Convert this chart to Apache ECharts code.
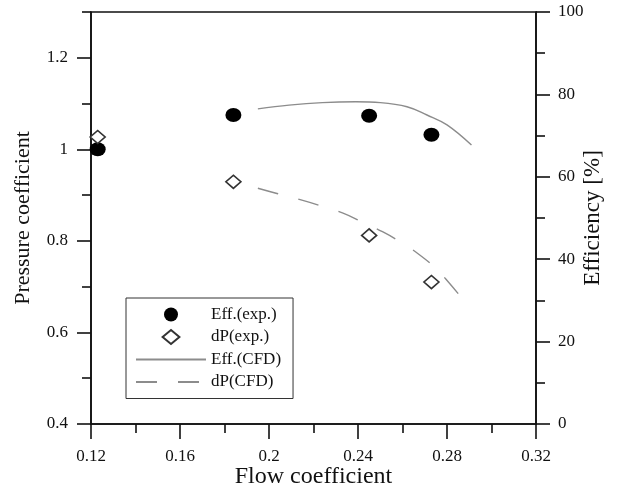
<!DOCTYPE html>
<html>
<head>
<meta charset="utf-8">
<script src="https://cdn.jsdelivr.net/npm/echarts@6/dist/echarts.min.js"></script>
<style>
  html, body { margin: 0; padding: 0; background: #fff; }
  #chart { width: 618px; height: 489px; }
</style>
</head>
<body>
<div id="chart"></div>
<script>
// Measured points (experiment)
const expFlow = [0.123, 0.184, 0.245, 0.273];
const expEff = [66.7, 75.0, 74.8, 70.2];
const expDP = [1.027, 0.929, 0.812, 0.710];

// CFD efficiency curve
const cfdEffFlow = [0.195, 0.209, 0.224, 0.239, 0.250, 0.262, 0.271, 0.280, 0.291];
const cfdEff = [76.5, 77.4, 78.0, 78.2, 78.0, 77.0, 75.0, 72.6, 67.7];

// CFD pressure coefficient curve
const cfdDPFlow = [0.195, 0.204, 0.214, 0.223, 0.233, 0.242, 0.251, 0.259, 0.267, 0.275, 0.281, 0.287];
const cfdDP = [0.915, 0.903, 0.890, 0.877, 0.861, 0.841, 0.820, 0.798, 0.772, 0.740, 0.708, 0.673];

// Axis ticks
const pressureLabels = [0.4, 0.6, 0.8, 1.0, 1.2];
const pressureMinor = [0.5, 0.7, 0.9, 1.1, 1.3];

const zip = (xs, ys) => xs.map((x, i) => [x, ys[i]]);

const FONT = 'Liberation Serif';
const INK = '#111';
const CURVE = '#8c8c8c';
const axisLine = { show: true, onZero: false, lineStyle: { color: INK, width: 1.6 } };
const noMarker = { color: 'rgba(0,0,0,0)', borderColor: 'rgba(0,0,0,0)', borderWidth: 0 };

const chart = echarts.init(document.getElementById('chart'));
chart.setOption({
  animation: false,
  backgroundColor: '#fff',
  textStyle: { fontFamily: FONT, color: INK },
  grid: {
    left: 91, right: 82, top: 12, bottom: 65,
    containLabel: false, outerBoundsMode: 'none',
    show: true, borderColor: INK, borderWidth: 1.6, backgroundColor: 'transparent'
  },
  legend: {
    orient: 'vertical',
    left: 126, top: 298,
    itemWidth: 70, itemHeight: 14, itemGap: 5.5,
    padding: [8, 12, 8, 9],
    borderColor: '#333', borderWidth: 1,
    backgroundColor: '#fff',
    textStyle: { fontFamily: FONT, fontSize: 17, color: INK },
    data: [
      { name: 'Eff.(exp.)', icon: 'circle' },
      { name: 'dP(exp.)', icon: 'path://M6,0L12,5L6,10L0,5Z' },
      { name: 'Eff.(CFD)', itemStyle: noMarker },
      { name: 'dP(CFD)', itemStyle: noMarker }
    ]
  },
  xAxis: {
    type: 'value', min: 0.12, max: 0.32, interval: 0.04,
    name: 'Flow coefficient', nameLocation: 'middle', nameGap: 41, nameMoveOverlap: false,
    nameTextStyle: { fontFamily: FONT, fontSize: 24, color: INK },
    axisLine: axisLine,
    axisTick: { show: true, inside: false, length: 15, lineStyle: { color: INK, width: 1.6 } },
    minorTick: { show: true, splitNumber: 2, length: 9, lineStyle: { color: INK, width: 1.6 } },
    axisLabel: { margin: 24, fontFamily: FONT, fontSize: 17, color: INK },
    splitLine: { show: false }
  },
  yAxis: [
    {
      type: 'value', position: 'left', min: 0.4, max: 1.3, interval: 0.1,
      name: 'Pressure coefficient', nameLocation: 'middle', nameGap: 57, nameRotate: 90,
      nameMoveOverlap: false,
      nameTextStyle: { fontFamily: FONT, fontSize: 22, color: INK },
      axisLine: axisLine,
      axisTick: { show: true, inside: false, length: 9, customValues: pressureMinor,
                  lineStyle: { color: INK, width: 1.6 } },
      axisLabel: { margin: 23, fontFamily: FONT, fontSize: 17, color: INK, customValues: pressureLabels },
      splitLine: { show: false }
    },
    {
      type: 'value', position: 'right', min: 0, max: 100, interval: 20,
      name: 'Efficiency [%]', nameLocation: 'middle', nameGap: 45, nameRotate: 90,
      nameMoveOverlap: false,
      nameTextStyle: { fontFamily: FONT, fontSize: 23, color: INK },
      axisLine: axisLine,
      axisTick: { show: true, inside: false, length: 14, lineStyle: { color: INK, width: 1.6 } },
      minorTick: { show: true, splitNumber: 2, length: 9, lineStyle: { color: INK, width: 1.6 } },
      axisLabel: { margin: 22, fontFamily: FONT, fontSize: 17, color: INK },
      splitLine: { show: false }
    },
    {
      // longer ticks at the labelled pressure values
      type: 'value', position: 'left', min: 0.4, max: 1.3,
      axisLine: { show: false, onZero: false },
      axisTick: { show: true, inside: false, length: 14, customValues: pressureLabels,
                  lineStyle: { color: INK, width: 1.6 } },
      axisLabel: { show: false },
      splitLine: { show: false }
    }
  ],
  series: [
    {
      name: 'Eff.(CFD)', type: 'line', yAxisIndex: 1, smooth: 0.4,
      symbol: 'none', z: 2,
      lineStyle: { color: CURVE, width: 1.4 },
      itemStyle: { color: CURVE },
      data: zip(cfdEffFlow, cfdEff)
    },
    {
      name: 'dP(CFD)', type: 'line', yAxisIndex: 0, smooth: 0.4,
      symbol: 'none', z: 2,
      lineStyle: { color: CURVE, width: 1.4, type: [21, 21] },
      itemStyle: { color: CURVE },
      data: zip(cfdDPFlow, cfdDP)
    },
    {
      name: 'Eff.(exp.)', type: 'scatter', yAxisIndex: 1,
      symbol: 'circle', symbolSize: [16, 14], z: 3,
      itemStyle: { color: '#000', opacity: 1 },
      data: zip(expFlow, expEff)
    },
    {
      name: 'dP(exp.)', type: 'scatter', yAxisIndex: 0,
      symbol: 'diamond', symbolSize: [15, 13], z: 3,
      itemStyle: { color: '#fff', borderColor: '#333', borderWidth: 1.6, opacity: 1 },
      data: zip(expFlow, expDP)
    }
  ]
});
</script>
</body>
</html>
